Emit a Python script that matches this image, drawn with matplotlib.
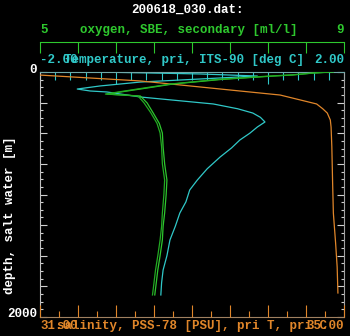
import matplotlib
matplotlib.use("Agg")
import matplotlib.pyplot as plt
from matplotlib.ticker import MultipleLocator, FixedLocator

# temperature profile (deg C vs depth m)
temp_depth = [0, 8, 16, 33, 57, 82, 114, 139, 155, 163, 204, 261, 300, 335, 370, 408,
              449, 500, 555, 620, 694, 790, 882, 963, 1060, 1151, 1260, 1371, 1500, 1616, 1720, 1820]
temp_val = [-1.25, -0.55, 0.11, 0.86, 0.11, -0.68, -1.21, -1.51, -1.34, -1.12, -0.68, 0.28, 0.60,
            0.80, 0.90, 0.96, 0.86, 0.76, 0.63, 0.52, 0.37, 0.20, 0.07, -0.03, -0.08, -0.16, -0.22,
            -0.29, -0.33, -0.38, -0.40, -0.41]

# salinity profile (PSU)
sal_depth = [25, 73, 155, 188, 261, 300, 335, 392, 450, 612, 900, 1151, 1400, 1592, 1804]
sal_val = [31.0, 32.32, 33.63, 34.16, 34.64, 34.72, 34.78, 34.82, 34.83, 34.84, 34.85,
           34.86, 34.89, 34.91, 34.92]

# oxygen, two casts (ml/l)
ox_depth = [0, 8, 24, 33, 60, 98, 139, 180, 196, 253, 335, 420, 498, 612, 750, 882,
            1000, 1151, 1260, 1371, 1500, 1616, 1720, 1820]
ox_val_a = [8.86, 8.59, 8.33, 8.07, 7.40, 6.75, 6.32, 5.88, 6.32, 6.41, 6.49, 6.57, 6.61,
            6.62, 6.64, 6.67, 6.66, 6.64, 6.62, 6.61, 6.58, 6.55, 6.53, 6.51]
ox_val_b = [8.80, 8.62, 8.30, 8.02, 7.35, 6.72, 6.28, 5.86, 6.29, 6.37, 6.46, 6.54, 6.58,
            6.60, 6.61, 6.64, 6.63, 6.61, 6.60, 6.58, 6.55, 6.52, 6.50, 6.48]

title = "200618_030.dat:"
ox_label = "oxygen, SBE, secondary [ml/l]"
temp_label = "Temperature, pri, ITS-90 [deg C]"
sal_label = "salinity, PSS-78 [PSU], pri T, pri C"
depth_label = "depth, salt water [m]"

GREEN = "#2ec82e"
CYAN = "#30c8c8"
ORANGE = "#e0862a"
FONT = "Liberation Mono"

W, H = 350, 336
fig = plt.figure(figsize=(3.5, 3.36), dpi=100, facecolor="black")

def fx(px):
    return px / W

def fy(py):
    return 1 - py / H

ax = fig.add_axes([fx(40), fy(317), fx(304), 245 / H], facecolor="black")
ax.set_xlim(-2, 2)
ax.set_ylim(2000, 0)

# salinity on its own x scale, ticks at the bottom
ax_s = ax.twiny()
ax_s.set_xlim(31, 35)
ax_s.xaxis.set_ticks_position("bottom")
ax_s.xaxis.set_major_locator(MultipleLocator(0.5))
ax_s.xaxis.set_minor_locator(MultipleLocator(0.25))
ax_s.tick_params(axis="x", which="both", direction="in", labelbottom=False, labeltop=False,
                 color=ORANGE, width=0.8)
ax_s.tick_params(axis="x", which="major", length=8.5)
ax_s.tick_params(axis="x", which="minor", length=4.5)
for s in ax_s.spines.values():
    s.set_visible(False)

# oxygen data scale
ax_o = ax.twiny()
ax_o.set_xlim(5, 9)
ax_o.set_xticks([])
for s in ax_o.spines.values():
    s.set_visible(False)

# depth ticks left and right
ax.yaxis.set_major_locator(MultipleLocator(250))
ax.yaxis.set_minor_locator(MultipleLocator(62.5))
ax.tick_params(axis="y", which="both", direction="in", left=True, right=True,
               labelleft=False, color="#d0d0d0", width=0.8)
ax.tick_params(axis="y", which="major", length=5)
ax.tick_params(axis="y", which="minor", length=2.5)

# temperature ticks along the top (after twiny, which moves them to the bottom)
ax.xaxis.tick_top()
ax.xaxis.set_major_locator(FixedLocator([-1, 1]))
ax.xaxis.set_minor_locator(MultipleLocator(0.2))
ax.tick_params(axis="x", which="both", direction="in", top=True, bottom=False,
               labeltop=False, labelbottom=False, color=CYAN, width=0.8)
ax.tick_params(axis="x", which="major", length=8.5)
ax.tick_params(axis="x", which="minor", length=5.5)

ax.spines["left"].set_color("#c0c0c0")
ax.spines["right"].set_color("#a0a0a0")
ax.spines["top"].set_color("#70a8a8")
ax.spines["bottom"].set_color("#a08060")

ax_s.plot(sal_val, sal_depth, color=ORANGE, lw=0.9)
ax_o.plot(ox_val_a, ox_depth, color=GREEN, lw=0.9)
ax_o.plot(ox_val_b, ox_depth, color="#22aa22", lw=0.9)
ax.plot(temp_val, temp_depth, color=CYAN, lw=0.9)

# oxygen axis above the plot
ax_ot = fig.add_axes([fx(40), fy(42), fx(304), 0.0001])
ax_ot.patch.set_visible(False)
ax_ot.set_xlim(5, 9)
ax_ot.set_yticks([])
ax_ot.xaxis.tick_top()
ax_ot.xaxis.set_major_locator(MultipleLocator(0.5))
ax_ot.tick_params(axis="x", direction="in", length=8, color=GREEN, width=0.8, labeltop=False)
for k in ["left", "right", "bottom"]:
    ax_ot.spines[k].set_visible(False)
ax_ot.spines["top"].set_color(GREEN)

tkw = dict(fontsize=9, fontweight="bold", family=FONT)
fig.text(fx(187), fy(10), title, color="white", ha="center", va="center", **tkw)
fig.text(fx(40), fy(30), "5", color=GREEN, ha="left", va="center", **tkw)
fig.text(fx(189), fy(30), ox_label, color=GREEN, ha="center", va="center", **tkw)
fig.text(fx(344), fy(30), "9", color=GREEN, ha="right", va="center", **tkw)
fig.text(fx(40), fy(60), "-2.00", color=CYAN, ha="left", va="center", **tkw)
fig.text(fx(184), fy(60), temp_label, color=CYAN, ha="center", va="center", **tkw)
fig.text(fx(344), fy(60), "2.00", color=CYAN, ha="right", va="center", **tkw)
fig.text(fx(40), fy(326), "31.00", color=ORANGE, ha="left", va="center", **tkw)
fig.text(fx(192), fy(326), sal_label, color=ORANGE, ha="center", va="center", **tkw)
fig.text(fx(344), fy(326), "35.00", color=ORANGE, ha="right", va="center", **tkw)
fig.text(fx(37), fy(70), "0", color="white", ha="right", va="center", **tkw)
fig.text(fx(37), fy(314), "2000", color="white", ha="right", va="center", **tkw)
fig.text(fx(10), fy(215), depth_label, color="white", ha="center", va="center",
         rotation=90, **tkw)

fig.savefig("out.png", dpi=100, facecolor="black")
